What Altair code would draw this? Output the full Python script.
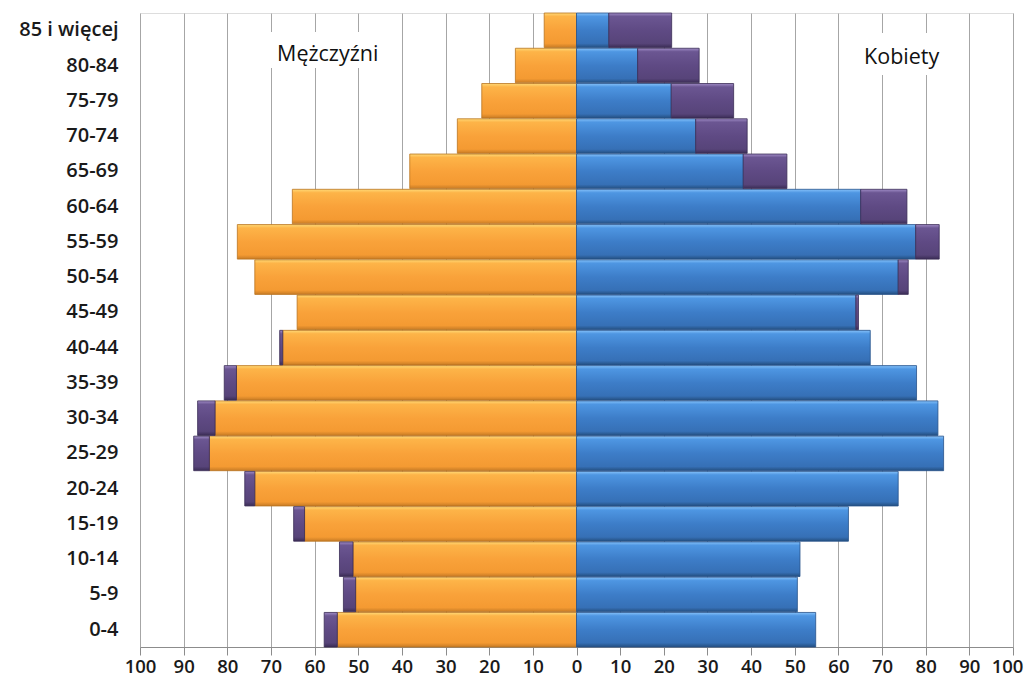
import altair as alt
import pandas as pd

ages = ["85 i więcej", "80-84", "75-79", "70-74", "65-69", "60-64", "55-59",
        "50-54", "45-49", "40-44", "35-39", "30-34", "25-29", "20-24",
        "15-19", "10-14", "5-9", "0-4"]
men = [7.4, 14.0, 21.7, 27.3, 38.2, 65.1, 77.7, 73.7, 64.0, 68.0,
       80.7, 86.8, 87.7, 76.0, 64.8, 54.3, 53.4, 57.8]
women = [21.8, 28.1, 36.0, 39.1, 48.2, 75.7, 83.1, 76.0, 64.6, 67.3,
         77.9, 82.8, 84.1, 73.7, 62.3, 51.2, 50.6, 54.8]
x_ticks = list(range(-100, 101, 10))

rows = []
for a, m, w in zip(ages, men, women):
    c = min(m, w)
    rows.append({"age": a, "m0": 0, "m1": -c, "me0": -c, "me1": -m,
                 "w0": 0, "w1": c, "we0": c, "we1": w,
                 "mex": m > w, "wex": w > m})
df = pd.DataFrame(rows)

FONT = "Open Sans"


def grad(stops):
    return alt.Gradient(
        gradient="linear", x1=0, x2=0, y1=0, y2=1,
        stops=[alt.GradientStop(color=c, offset=o) for o, c in stops])


orange = grad([(0, "#FFD977"), (0.1, "#FDB448"), (0.5, "#F9A23A"),
               (0.88, "#F49A32"), (1, "#C77B25")])
blue = grad([(0, "#86C2FA"), (0.1, "#4E96E2"), (0.5, "#3D7DC8"),
             (0.88, "#3670B6"), (1, "#244F80")])
purple = grad([(0, "#A08CC6"), (0.1, "#6B5692"), (0.5, "#5F4A84"),
               (0.88, "#574479"), (1, "#3A2C54")])

yenc = alt.Y("age:N", sort=ages, title=None,
             scale=alt.Scale(domain=ages, paddingInner=0.02, paddingOuter=0),
             axis=alt.Axis(ticks=False, domain=False, labelPadding=22,
                           labelFont=FONT, labelFontSize=20,
                           labelFontWeight=600, labelColor="#1a1a1a",
                           grid=False))
xscale = alt.Scale(domain=[-100, 100], nice=False)
xaxis = alt.Axis(values=x_ticks, labelExpr="abs(datum.value)", title=None,
                 grid=True, gridColor="#A6A6A6", gridWidth=1,
                 domainColor="#8C8C8C", tickColor="#8C8C8C", tickSize=8,
                 labelFont=FONT, labelFontSize=18.5, labelFontWeight=600,
                 labelColor="#1a1a1a", labelPadding=17,
                 labelBaseline="alphabetic", labelFlush=False,
                 labelOffset={"condition": {"test": "datum.value == 100", "value": -6},
                              "value": 0})

base = alt.Chart(df)

men_bar = base.mark_bar(fill=orange, stroke="#B9731F", strokeWidth=0.8).encode(
    x=alt.X("m0:Q", scale=xscale, axis=xaxis), x2="m1:Q", y=yenc)
men_ex = base.transform_filter("datum.mex").mark_bar(
    fill=purple, stroke="#3A2C56", strokeWidth=0.8).encode(
    x=alt.X("me0:Q", scale=xscale), x2="me1:Q", y=alt.Y("age:N", sort=ages))
women_bar = base.mark_bar(fill=blue, stroke="#26528A", strokeWidth=0.8).encode(
    x=alt.X("w0:Q", scale=xscale), x2="w1:Q", y=alt.Y("age:N", sort=ages))
women_ex = base.transform_filter("datum.wex").mark_bar(
    fill=purple, stroke="#3A2C56", strokeWidth=0.8).encode(
    x=alt.X("we0:Q", scale=xscale), x2="we1:Q", y=alt.Y("age:N", sort=ages))

labels_df = pd.DataFrame({
    "txt": ["Mężczyźni", "Kobiety"],
    "xc": [-57.0, 74.5],
    "bx0": [-71.0, 64.8],
    "bx1": [-42.6, 84.5],
})
boxes = alt.Chart(labels_df).transform_filter("datum.txt == 'Mężczyźni'").mark_rect(
    fill="white").encode(x=alt.X("bx0:Q", scale=xscale), x2="bx1:Q",
                         y=alt.value(19), y2=alt.value(55))
boxes2 = alt.Chart(labels_df).transform_filter("datum.txt == 'Kobiety'").mark_rect(
    fill="white").encode(x=alt.X("bx0:Q", scale=xscale), x2="bx1:Q",
                         y=alt.value(20), y2=alt.value(62))
t1 = alt.Chart(labels_df).transform_filter("datum.txt == 'Mężczyźni'").mark_text(
    font=FONT, fontSize=21.5, color="#111111", baseline="middle", align="center").encode(
    x=alt.X("xc:Q", scale=xscale), y=alt.value(42), text="txt:N")
t2 = alt.Chart(labels_df).transform_filter("datum.txt == 'Kobiety'").mark_text(
    font=FONT, fontSize=21.5, color="#111111", baseline="middle", align="center").encode(
    x=alt.X("xc:Q", scale=xscale), y=alt.value(45), text="txt:N")

chart = alt.layer(boxes, boxes2, men_bar, men_ex, women_bar, women_ex, t1, t2).properties(
    width=873, height=634,
    autosize=alt.AutoSizeParams(type="none"),
    padding={"left": 132, "top": 5, "right": 13, "bottom": 31},
).configure_view(stroke=None).configure(background="white")

chart.save("out.html", embed_options={"renderer": "svg", "actions": False})
